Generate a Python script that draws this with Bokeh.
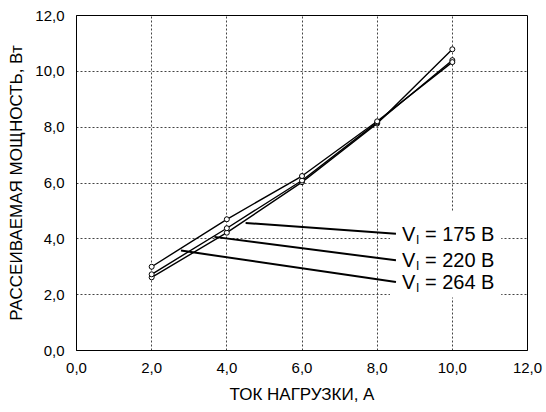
from bokeh.plotting import figure
from bokeh.models import FixedTicker, CustomJSTickFormatter, ColumnDataSource, Range1d
from bokeh.core.properties import value
from bokeh.embed import file_html
from bokeh.resources import INLINE

# Load current, A
load_current = [2, 4, 6, 8, 10]
# Dissipated power, W, for each input voltage
loss_175 = [2.62, 4.22, 6.03, 8.13, 10.79]
loss_220 = [2.73, 4.38, 6.09, 8.17, 10.40]
loss_264 = [3.00, 4.70, 6.25, 8.21, 10.33]
voltages = ["175", "220", "264"]

axis_ticks = [0, 2, 4, 6, 8, 10, 12]

# Callout leaders: where each leader touches its curve and where its label sits
leader_start_x = [4.5, 3.67, 2.78]
leader_start_y = [4.57, 4.07, 3.58]
label_x = [8.5, 8.5, 8.5]
label_y = [4.18, 3.23, 2.45]

FONT = "Liberation Sans"

p = figure(width=546, height=412, output_backend="svg", toolbar_location=None,
           x_range=Range1d(0, 12), y_range=Range1d(0, 12),
           min_border_left=76, min_border_right=19, min_border_top=15,
           min_border_bottom=62)
p.background_fill_color = "white"
p.border_fill_color = "white"
p.outline_line_color = "black"
p.outline_line_width = 1

fmt = CustomJSTickFormatter(code="return tick.toFixed(1).replace('.', ',');")
for ax in (p.xaxis[0], p.yaxis[0]):
    ax.ticker = FixedTicker(ticks=axis_ticks)
    ax.formatter = fmt
    ax.major_tick_out = 0
    ax.major_tick_in = 0
    ax.minor_tick_out = 0
    ax.minor_tick_in = 0
    ax.axis_line_color = "black"
    ax.major_label_text_font = FONT
    ax.major_label_text_font_size = "15px"
    ax.major_label_text_color = "black"
    ax.major_label_standoff = 12
    ax.axis_label_text_font = FONT
    ax.axis_label_text_font_size = "17px"
    ax.axis_label_text_font_style = "normal"
    ax.axis_label_text_color = "black"

p.xaxis.axis_label = "ТОК НАГРУЗКИ, А"
p.xaxis.axis_label_standoff = 9
p.yaxis.axis_label = "РАССЕИВАЕМАЯ МОЩНОСТЬ, Вт"
p.yaxis.axis_label_standoff = 6

for g in (p.xgrid[0], p.ygrid[0]):
    g.ticker = FixedTicker(ticks=axis_ticks)
    g.grid_line_color = "#444444"
    g.grid_line_dash = "2 2"
    g.grid_line_width = 1

# Curves with open circle markers
for series in (loss_175, loss_220, loss_264):
    p.line(load_current, series, line_color="black", line_width=1.4)
    p.scatter(load_current, series, marker="circle", size=5,
              fill_color="white", line_color="black", line_width=1)

# White panel behind the callout texts
p.quad(left=[8.34], right=[11.3], bottom=[1.9], top=[5.0],
       fill_color="white", line_color=None)

# Leader lines
p.segment(x0=leader_start_x, y0=leader_start_y, x1=label_x, y1=label_y,
          line_color="black", line_width=2)

src = ColumnDataSource(dict(
    x=label_x, y=label_y,
    v=["V"] * 3, sub=["I"] * 3,
    rest=[f"= {v} В" for v in voltages],
))
p.text(x="x", y="y", text="v", source=src, x_offset=6,
       text_font=value(FONT), text_font_size="20px",
       text_baseline="middle", text_align="left", text_color="black")
p.text(x="x", y="y", text="sub", source=src, x_offset=20, y_offset=6,
       text_font=value(FONT), text_font_size="12px",
       text_baseline="middle", text_align="left", text_color="black")
p.text(x="x", y="y", text="rest", source=src, x_offset=29,
       text_font=value(FONT), text_font_size="20px",
       text_baseline="middle", text_align="left", text_color="black")

open("out.html", "w").write(file_html(p, INLINE))
